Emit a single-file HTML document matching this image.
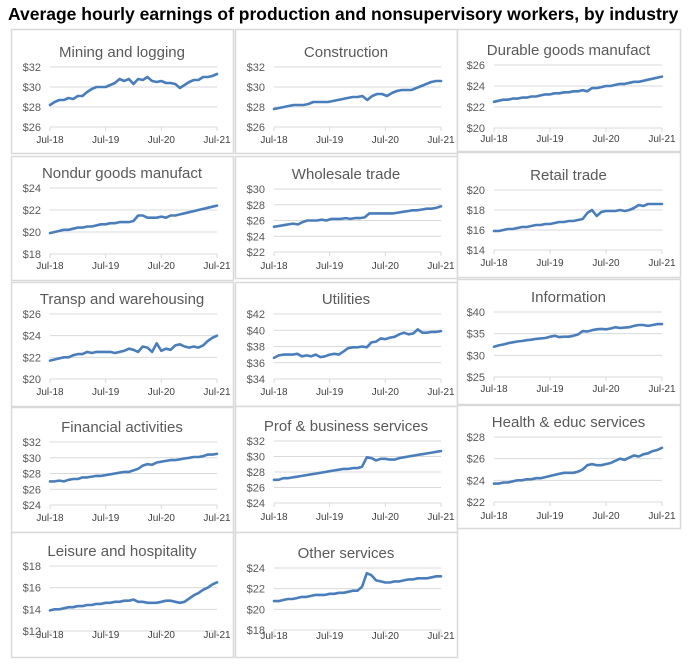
<!DOCTYPE html>
<html><head><meta charset="utf-8">
<style>
body{margin:0;background:#fff;width:692px;height:661px;overflow:hidden;font-family:"Liberation Sans",sans-serif}
svg text{font-family:"Liberation Sans",sans-serif}
</style></head>
<body>
<svg id="chart" width="692" height="661" xmlns="http://www.w3.org/2000/svg">
<text x="8" y="20" font-size="17.5" font-weight="bold" fill="#000">Average hourly earnings of production and nonsupervisory workers, by industry</text>
</svg>
<script>
const xTickLabels=["Jul-18","Jul-19","Jul-20","Jul-21"];
const titles=["Mining and logging","Construction","Durable goods manufact","Nondur goods manufact","Wholesale trade","Retail trade","Transp and warehousing","Utilities","Information","Financial activities","Prof & business services","Health & educ services","Leisure and hospitality","Other services"];
const yTicks=[[26,28,30,32],[26,28,30,32],[20,22,24,26],[18,20,22,24],[22,24,26,28,30],[14,16,18,20],[20,22,24,26],[34,36,38,40,42],[25,30,35,40],[24,26,28,30,32],[24,26,28,30,32],[22,24,26,28],[12,14,16,18],[18,20,22,24]];
const s0=[28.2,28.5,28.7,28.7,28.9,28.8,29.1,29.1,29.5,29.8,30.0,30.0,30.0,30.2,30.4,30.8,30.6,30.8,30.3,30.8,30.7,31.0,30.6,30.5,30.6,30.4,30.4,30.3,29.9,30.2,30.5,30.7,30.7,31.0,31.0,31.1,31.3];
const s1=[27.8,27.9,28.0,28.1,28.2,28.2,28.2,28.3,28.5,28.5,28.5,28.5,28.6,28.7,28.8,28.9,29.0,29.0,29.1,28.7,29.1,29.3,29.3,29.1,29.4,29.6,29.7,29.7,29.7,29.9,30.1,30.3,30.5,30.6,30.6];
const s2=[22.5,22.6,22.7,22.7,22.8,22.8,22.9,22.9,23.0,23.0,23.1,23.2,23.2,23.3,23.3,23.4,23.4,23.5,23.5,23.6,23.5,23.8,23.8,23.9,24.0,24.0,24.1,24.2,24.2,24.3,24.4,24.4,24.5,24.6,24.7,24.8,24.9];
const s3=[19.9,20.0,20.1,20.2,20.2,20.3,20.4,20.4,20.5,20.5,20.6,20.7,20.7,20.8,20.8,20.9,20.9,20.9,21.0,21.5,21.5,21.3,21.3,21.3,21.4,21.3,21.5,21.5,21.6,21.7,21.8,21.9,22.0,22.1,22.2,22.3,22.4];
const s4=[25.2,25.3,25.4,25.5,25.6,25.5,25.8,26.0,26.0,26.0,26.1,26.0,26.2,26.2,26.2,26.3,26.2,26.3,26.3,26.4,26.9,26.9,26.9,26.9,26.9,26.9,27.0,27.1,27.2,27.3,27.3,27.4,27.5,27.5,27.6,27.8];
const s5=[15.9,15.9,16.0,16.1,16.1,16.2,16.3,16.3,16.4,16.5,16.5,16.6,16.6,16.7,16.8,16.8,16.9,16.9,17.0,17.1,17.7,18.0,17.4,17.8,17.9,17.9,17.9,18.0,17.9,18.0,18.2,18.5,18.4,18.6,18.6,18.6,18.6];
const s6=[21.7,21.8,21.9,22.0,22.0,22.2,22.3,22.3,22.5,22.4,22.5,22.5,22.5,22.5,22.4,22.5,22.6,22.8,22.7,22.5,23.0,22.9,22.5,23.3,22.6,22.8,22.7,23.1,23.2,23.0,22.9,23.0,22.9,23.1,23.5,23.8,24.0];
const s7=[36.6,36.9,37.0,37.0,37.0,37.1,36.8,36.9,36.8,37.0,36.7,36.8,37.0,37.1,37.0,37.4,37.8,37.9,37.9,38.0,37.9,38.5,38.6,39.0,38.9,39.1,39.2,39.5,39.7,39.5,39.6,40.1,39.7,39.7,39.8,39.8,39.9];
const s8=[32.0,32.3,32.5,32.8,33.0,33.2,33.3,33.5,33.6,33.8,33.9,34.0,34.3,34.5,34.2,34.3,34.3,34.5,34.8,35.6,35.5,35.8,36.0,36.1,36.0,36.2,36.5,36.3,36.4,36.5,36.8,37.0,37.0,36.8,37.0,37.2,37.2];
const s9=[27.0,27.0,27.1,27.0,27.2,27.3,27.3,27.5,27.5,27.6,27.7,27.7,27.8,27.9,28.0,28.1,28.2,28.2,28.4,28.6,29.0,29.2,29.1,29.4,29.5,29.6,29.7,29.7,29.8,29.9,30.0,30.1,30.1,30.2,30.4,30.4,30.5];
const s10=[27.0,27.0,27.2,27.2,27.3,27.4,27.5,27.6,27.7,27.8,27.9,28.0,28.1,28.2,28.3,28.4,28.4,28.5,28.5,28.7,29.9,29.8,29.5,29.7,29.7,29.6,29.6,29.8,29.9,30.0,30.1,30.2,30.3,30.4,30.5,30.6,30.7];
const s11=[23.7,23.7,23.8,23.8,23.9,24.0,24.0,24.1,24.1,24.2,24.2,24.3,24.4,24.5,24.6,24.7,24.7,24.7,24.8,25.0,25.4,25.5,25.4,25.4,25.5,25.6,25.8,26.0,25.9,26.1,26.3,26.2,26.4,26.5,26.7,26.8,27.0];
const s12=[13.9,14.0,14.0,14.1,14.2,14.2,14.3,14.3,14.4,14.4,14.5,14.5,14.6,14.6,14.7,14.7,14.8,14.8,14.9,14.7,14.7,14.6,14.6,14.6,14.7,14.8,14.8,14.7,14.6,14.7,15.0,15.3,15.5,15.8,16.0,16.3,16.5];
const s13=[20.8,20.8,20.9,21.0,21.0,21.1,21.2,21.2,21.3,21.4,21.4,21.4,21.5,21.5,21.6,21.6,21.7,21.8,21.8,22.2,23.5,23.3,22.8,22.7,22.6,22.6,22.7,22.7,22.8,22.9,22.9,23.0,23.0,23.0,23.1,23.2,23.2];
const series=[s0,s1,s2,s3,s4,s5,s6,s7,s8,s9,s10,s11,s12,s13];

// layout: [panelX, panelY, panelW, panelH, plotTop, plotBottom, xLabelY]
const layout=[[11,29,222,124,67,127,140],[235,29,222,124,67,127,140],[457,29,223,122,65,128,139],
[11,156,222,124,188,254,266],[235,156,222,122,189,252,266],[457,152,223,125,190,250,263],
[11,282,222,124,314,379,392],[235,282,222,124,314,379,392],[457,279,223,125,312,377,389],
[11,407,222,125,442,505,518],[235,406,222,126,441,503,517],[457,405,223,123,437,502,516],
[11,532,222,125,566,631,635],[235,532,222,125,568,630,636]];

const svg=document.getElementById('chart');
const NS='http://www.w3.org/2000/svg';
function mk(tag,attrs,parent){const e=document.createElementNS(NS,tag);for(const k in attrs)e.setAttribute(k,attrs[k]);parent.appendChild(e);return e;}

series.forEach((vals,i)=>{
  const [px,py,pw,ph,top,bot,xly]=layout[i];
  const g=mk('g',{},svg);
  
  
  const r=mk('rect',{x:px+0.5,y:py+0.5,width:pw,height:ph,fill:'#fff',stroke:'#d9d9d9','stroke-width':1.5},g);
  
  
  const left=px+(i%3===2?37:39), right=px+pw-(i%3===2?18:16);
  const ticks=yTicks[i];
  const ymin=ticks[0], ymax=ticks[ticks.length-1];
  const yS=v=>bot-(v-ymin)/(ymax-ymin)*(bot-top);
  const xS=k=>left+k/(vals.length-1)*(right-left);
  const t=mk('text',{x:px+pw/2,y:top-10,'text-anchor':'middle','font-size':15,fill:'#595959'},g);
  t.textContent=titles[i];
  
  
  ticks.forEach(v=>{
    const y=yS(v);
    const gl=mk('line',{x1:left,x2:right,y1:y,y2:y,stroke:'#d9d9d9','stroke-width':1},g);
    
    
    const lb=mk('text',{x:left-9,y:y+4,'text-anchor':'end','font-size':11,fill:'#595959'},g);
    lb.textContent='$'+v;
    
    
  });
  xTickLabels.forEach((lab,j)=>{
    const x=left+j/(xTickLabels.length-1)*(right-left);
    const tk=mk('line',{x1:x,x2:x,y1:bot,y2:bot+4,stroke:'#d9d9d9'},g);
    
    
    const lb=mk('text',{x:x,y:xly+3,'text-anchor':'middle','font-size':10,fill:'#404040'},g);
    lb.textContent=lab;
    
    
  });
  const d=vals.map((v,k)=>(k?'L':'M')+xS(k).toFixed(1)+','+yS(v).toFixed(1)).join('');
  const p=mk('path',{d:d,fill:'none',stroke:'#4a7ebb','stroke-width':2.6,'stroke-linejoin':'round','stroke-linecap':'round'},g);
  
  
});
</script>
</body></html>
